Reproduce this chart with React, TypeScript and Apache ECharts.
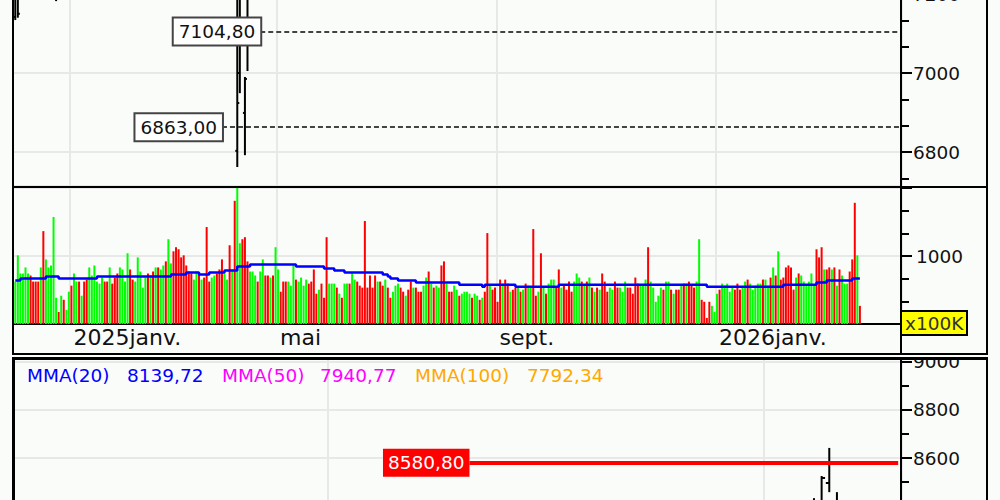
import React, { useEffect, useRef } from 'react';
import * as echarts from 'echarts';

// ---------------- data ----------------
const CATEGORY_COUNT = 348; // daily slots on the top chart's time axis
const BOTTOM_CATEGORY_COUNT = 116; // slots on the lower chart's time axis

const MONTH_LABELS = ['2025janv.', 'mai', 'sept.', '2026janv.'];
const MONTH_INDEX = [22, 103, 189, 275];
const BOTTOM_GRID_INDEX = [41, 98];

// volume in x100K
const VOLUME = [
  624, 1010, 743, 743, 832, 743, 713, 624, 624, 624,
  832, 1366, 950, 832, 861, 1574, 386, 178, 416, 356,
  208, 475, 564, 743, 624, 624, 416, 624, 653, 832,
  713, 861, 624, 594, 683, 624, 624, 832, 594, 683,
  743, 832, 802, 624, 1040, 802, 653, 624, 980, 772,
  535, 683, 743, 713, 772, 832, 832, 802, 861, 921,
  1247, 891, 1069, 1129, 1099, 980, 1010, 861, 772, 743,
  653, 772, 743, 653, 683, 1426, 624, 683, 713, 743,
  802, 950, 743, 653, 1158, 802, 1812, 2010, 1188, 1247,
  1277, 921, 772, 772, 713, 624, 772, 950, 713, 713,
  683, 713, 1129, 802, 475, 624, 624, 624, 564, 861,
  653, 624, 683, 564, 653, 594, 624, 802, 446, 505,
  594, 386, 1277, 594, 594, 594, 535, 446, 386, 594,
  594, 594, 743, 653, 624, 564, 535, 1515, 535, 713,
  535, 713, 624, 624, 564, 653, 535, 386, 475, 564,
  594, 535, 475, 416, 505, 624, 535, 535, 475, 475,
  564, 683, 772, 594, 535, 564, 535, 861, 921, 594,
  475, 475, 564, 505, 416, 446, 475, 475, 446, 386,
  446, 416, 356, 386, 475, 1337, 564, 505, 535, 327,
  653, 594, 653, 594, 475, 505, 535, 535, 475, 505,
  594, 564, 535, 1396, 416, 475, 1040, 535, 446, 594,
  653, 653, 535, 802, 535, 564, 505, 624, 475, 624, 743,
  683, 624, 564, 624, 683, 535, 475, 535, 505, 743,
  624, 475, 535, 505, 624, 535, 535, 475, 624, 535,
  535, 446, 683, 594, 564, 564, 653, 1129, 624, 535,
  327, 416, 535, 505, 624, 624, 505, 446, 505, 505,
  564, 594, 594, 624, 564, 535, 624, 1247, 356, 327,
  89, 327, 267, 178, 446, 505, 594, 564, 594, 475,
  535, 505, 594, 505, 535, 624, 653, 594, 505, 564,
  594, 594, 653, 653, 564, 683, 832, 713, 1069, 653,
  683, 832, 861, 832, 505, 683, 743, 713, 624, 564,
  624, 743, 564, 1099, 980, 1129, 802, 802, 832, 802,
  832, 564, 802, 713, 594, 594, 772, 950, 1782, 1010, 267,
];

// g = up day (green), r = down day (red)
const VOLUME_DIR = [
  'ggggggrrrr', 'grgggggrgr', 'ggrggrgrrg', 'gggggrrgrr', 'rggggrrggg',
  'ggrgrgrggr', 'ggrrrrrrrr', 'ggrgrrrggr', 'rrggrgrggr', 'rrgggrggrr', 'grggrrrggg',
  'rggggrrrrg', 'rrrgggrgrg', 'grggrrrrrr', 'rrgrrgrrgg', 'grrgrrgrrr',
  'ggrgrggrrg', 'rrggrggggr', 'ggrgrrgrrr', 'rgrrgrrgrg', 'rggrrgrgrg', 'ggrrgrrrrgg',
  'grgrgrgrgr', 'rrggrrgggr', 'rrrrgggrgg', 'gggrggrgrr', 'grgrrrggrr',
  'rrgggrgggg', 'grrrggrggg', 'ggrggrgrgr', 'rrrrrgrggg', 'gggrrrgrrg', 'rgrgggrrrgr',
].join('');

// moving average of volume: [first bar index, value]
const VOLUME_MA = [
  [0, 639], [2, 668], [12, 698], [17, 668], [32, 698], [61, 728], [67, 757], [72, 728],
  [76, 757], [82, 787], [87, 846], [92, 876], [110, 846], [121, 817], [125, 787], [129, 757],
  [144, 728], [146, 698], [147, 668], [150, 639], [157, 609], [174, 579], [183, 549], [184, 579],
  [196, 549], [213, 579], [271, 549], [301, 579], [314, 609], [318, 639], [328, 668], [331, 668],
];

// [bar index, open, high, low, close] — only the bars that reach the visible price window
const PRICE_TOP = [
  [0, 7142, 7280, 7134, 7190],
  [1, 7190, 7260, 7140, 7150],
  [16, 7240, 7290, 7182, 7260],
  [87, 6803, 7250, 6762, 6924],
  [88, 7000, 7300, 6949, 7120],
  [90, 6899, 6990, 6792, 6985],
  [91, 7110, 7300, 7005, 7120],
];
const PRICE_BOTTOM = [
  [104, 8380, 8433, 8340, 8400],
  [105, 8400, 8525, 8380, 8517],
  [106, 8496, 8642, 8458, 8581],
  [107, 8420, 8458, 8370, 8400],
];

const PRICE_LEVELS = [
  { value: 7104.8, text: '7104,80', from: 96 },
  { value: 6863.0, text: '6863,00', from: 81 },
];
const LAST_PRICE = { value: 8580.8, text: '8580,80', from: 59 };

const MMA_LEGEND = [
  { label: 'MMA(20)', value: '8139,72', color: '#0000ff' },
  { label: 'MMA(50)', value: '7940,77', color: '#ff00ff' },
  { label: 'MMA(100)', value: '7792,34', color: '#ffa800' },
];

const PRICE_MIN = 6714;
const PRICE_MAX = 7200;
const PRICE_MINOR_TICKS = [6733.33, 6866.67, 6933.33, 7066.67, 7133.33];
const BOTTOM_MIN = 8392;
const BOTTOM_MAX = 9012;

// ---------------- styles ----------------
const FONT = 'DejaVu Sans';
const BG = '#fafcfa';
const GRID_COLOR = '#e8e8e8';
const UP_COLOR = '#00ff00';
const DOWN_COLOR = '#ff0000';
const TEXT = '#111111';

const renderOHLC = (params: any, api: any) => {
  const idx = api.value(0);
  const open = api.value(1);
  const high = api.value(2);
  const low = api.value(3);
  const close = api.value(4);
  const cs = params.coordSys;
  const top = cs.y;
  const bottom = cs.y + cs.height;
  const pH = api.coord([idx, high]);
  const pL = api.coord([idx, low]);
  const pO = api.coord([idx, open]);
  const pC = api.coord([idx, close]);
  const band = api.size([1, 0])[0];
  const tick = Math.max(2, band * 0.45);
  const x = pH[0];
  const y1 = Math.max(top, pH[1]);
  const y2 = Math.min(bottom, pL[1]);
  const style = { stroke: '#000', lineWidth: 2 };
  const children: any[] = [];
  if (y2 > y1) children.push({ type: 'line', shape: { x1: x, y1, x2: x, y2 }, style });
  if (pO[1] >= top && pO[1] <= bottom)
    children.push({ type: 'line', shape: { x1: x - tick, y1: pO[1], x2: x, y2: pO[1] }, style });
  if (pC[1] >= top && pC[1] <= bottom)
    children.push({ type: 'line', shape: { x1: x, y1: pC[1], x2: x + tick, y2: pC[1] }, style });
  return { type: 'group', children };
};

const plain = (v: number) => String(v);

const buildOption = () => {
  const cats = Array.from({ length: CATEGORY_COUNT }, (_, i) => String(i));
  const bottomCats = Array.from({ length: BOTTOM_CATEGORY_COUNT }, (_, i) => String(i));
  const isMonth = (i: number) => MONTH_INDEX.indexOf(i) >= 0;
  const splitX = { show: true, interval: isMonth, lineStyle: { color: GRID_COLOR, width: 2 } };
  const splitY = { show: true, lineStyle: { color: GRID_COLOR, width: 2 } };
  const tickStyle = { color: '#000', width: 2 };
  const axisLabelStyle = { fontFamily: FONT, fontSize: 18.5, color: TEXT };
  const dashStyle = { color: '#444444', width: 2, type: [5, 3] as any, opacity: 1 };

  const volumeData = VOLUME.map((v, i) => ({
    value: v,
    itemStyle: { color: VOLUME_DIR[i] === 'g' ? UP_COLOR : DOWN_COLOR },
  }));

  const levelLines = PRICE_LEVELS.map((lv) => [
    {
      coord: [lv.from, lv.value],
      label: {
        show: true, position: 'start', distance: 0, formatter: lv.text,
        backgroundColor: '#ffffff', borderColor: '#444444', borderWidth: 2,
        padding: [3, 5, 3, 5], lineHeight: 20, ...axisLabelStyle,
      },
      lineStyle: dashStyle,
    },
    { coord: [CATEGORY_COUNT - 1, lv.value] },
  ]);

  const rect = (x: number, y: number, w: number, h: number, fill = '#000', z = 100) => ({
    type: 'rect', silent: true, z, shape: { x, y, width: w, height: h }, style: { fill },
  });

  const legendX = [27, 127, 222, 320, 415, 527];
  const legendTexts: any[] = [];
  MMA_LEGEND.forEach((m, i) => {
    [m.label, m.value].forEach((t, j) => {
      legendTexts.push({
        type: 'text', z: 102, x: legendX[i * 2 + j], y: 375,
        style: { text: t, fill: m.color, fontFamily: FONT, fontSize: 18.5, verticalAlign: 'middle' },
      });
    });
  });

  return {
    animation: false,
    backgroundColor: BG,
    textStyle: { fontFamily: FONT },
    grid: [
      { left: 14, right: 98, top: -6, height: 192, containLabel: false, outerBoundsMode: 'none' },
      { left: 14, right: 98, top: 188, height: 136, containLabel: false, outerBoundsMode: 'none' },
      { left: 14, right: 98, top: 359, height: 149, containLabel: false, outerBoundsMode: 'none' },
    ],
    xAxis: [
      {
        type: 'category', gridIndex: 0, data: cats, boundaryGap: true,
        axisLine: { show: false }, axisTick: { show: false }, axisLabel: { show: false },
        splitLine: splitX,
      },
      {
        type: 'category', gridIndex: 1, data: cats, boundaryGap: true,
        axisLine: { show: true, lineStyle: { color: '#000', width: 2 } },
        axisTick: { show: false },
        axisLabel: {
          show: true, interval: isMonth, align: 'left', margin: 2, padding: [0, 0, 0, 2],
          fontFamily: FONT, fontSize: 22, color: TEXT,
          formatter: (_v: string, i: number) => {
            const k = MONTH_INDEX.indexOf(i);
            return k >= 0 ? MONTH_LABELS[k] : '';
          },
        },
        splitLine: splitX,
      },
      {
        type: 'category', gridIndex: 2, data: bottomCats, boundaryGap: true,
        axisLine: { show: false }, axisTick: { show: false }, axisLabel: { show: false },
        splitLine: {
          show: true, interval: (i: number) => BOTTOM_GRID_INDEX.indexOf(i) >= 0,
          lineStyle: { color: GRID_COLOR, width: 2 },
        },
      },
    ],
    yAxis: [
      {
        type: 'value', gridIndex: 0, position: 'right', min: PRICE_MIN, max: PRICE_MAX,
        minInterval: 200, maxInterval: 200,
        axisLine: { show: false },
        axisTick: { show: true, length: 10, lineStyle: tickStyle },
        axisLabel: { show: true, margin: 11, showMinLabel: false, formatter: plain, ...axisLabelStyle },
        splitLine: splitY,
      },
      {
        type: 'value', gridIndex: 0, position: 'right', min: PRICE_MIN, max: PRICE_MAX,
        axisLine: { show: false }, axisLabel: { show: false }, splitLine: { show: false },
        axisTick: { show: true, length: 7, customValues: PRICE_MINOR_TICKS, lineStyle: tickStyle },
      },
      {
        type: 'value', gridIndex: 1, position: 'right', min: 0, max: 2000, interval: 1000,
        axisLine: { show: false },
        axisTick: { show: true, length: 10, lineStyle: tickStyle },
        minorTick: { show: true, splitNumber: 3, length: 7, lineStyle: tickStyle },
        axisLabel: {
          show: true, margin: 14, ...axisLabelStyle,
          formatter: (v: number) => (v === 1000 ? '1000' : ''),
        },
        splitLine: splitY,
      },
      {
        type: 'value', gridIndex: 2, position: 'right', min: BOTTOM_MIN, max: BOTTOM_MAX,
        minInterval: 200, maxInterval: 200,
        axisLine: { show: false },
        axisTick: { show: true, length: 10, lineStyle: tickStyle },
        minorTick: { show: true, splitNumber: 2, length: 7, lineStyle: tickStyle },
        axisLabel: {
          show: true, margin: 11, showMinLabel: false, showMaxLabel: false,
          formatter: plain, ...axisLabelStyle,
        },
        splitLine: splitY,
      },
    ],
    series: [
      {
        type: 'custom', name: 'price', xAxisIndex: 0, yAxisIndex: 0,
        renderItem: renderOHLC, data: PRICE_TOP, encode: { x: 0, y: [1, 2, 3, 4] }, z: 3,
        markLine: {
          silent: true, symbol: ['none', 'none'], animation: false,
          lineStyle: dashStyle, data: levelLines,
        },
      },
      {
        type: 'bar', name: 'volume', xAxisIndex: 1, yAxisIndex: 2,
        data: volumeData, barWidth: 2, z: 2,
      },
      {
        type: 'line', name: 'volume MA', xAxisIndex: 1, yAxisIndex: 2,
        data: VOLUME_MA, step: 'end', showSymbol: false, symbol: 'none',
        lineStyle: { color: '#0000ff', width: 2.5 }, z: 4,
      },
      {
        type: 'custom', name: 'price2', xAxisIndex: 2, yAxisIndex: 3,
        renderItem: renderOHLC, data: PRICE_BOTTOM, encode: { x: 0, y: [1, 2, 3, 4] }, z: 3,
        markLine: {
          silent: true, symbol: ['none', 'none'], animation: false,
          lineStyle: { color: '#ff0000', width: 4, type: 'solid', opacity: 1 },
          data: [[
            {
              coord: [LAST_PRICE.from, LAST_PRICE.value],
              label: {
                show: true, position: 'start', distance: 0, formatter: LAST_PRICE.text,
                backgroundColor: '#ff0000', padding: [4, 5, 4, 5], lineHeight: 20,
                fontFamily: FONT, fontSize: 18.5, color: '#ffffff',
              },
              lineStyle: { color: '#ff0000', width: 4, type: 'solid', opacity: 1 },
            },
            { coord: [BOTTOM_CATEGORY_COUNT - 1, LAST_PRICE.value] },
          ]],
        },
      },
    ],
    graphic: [
      rect(903, 336, 83, 21, BG, 99),
      rect(12, 0, 2, 355),
      rect(12, 186, 976, 2),
      rect(12, 353, 976, 2),
      rect(900, 0, 2, 355),
      rect(986, 0, 2, 355),
      rect(12, 357, 976, 3),
      rect(12, 357, 3, 143),
      rect(900, 357, 2, 143),
      rect(986, 357, 2, 143),
      {
        type: 'rect', z: 101, silent: true,
        shape: { x: 901, y: 311, width: 66, height: 24 },
        style: { fill: '#ffff00', stroke: '#000', lineWidth: 2 },
      },
      {
        type: 'text', z: 102, x: 905, y: 323.5, silent: true,
        style: { text: 'x100K', fill: '#333', fontFamily: FONT, fontSize: 18.5, verticalAlign: 'middle' },
      },
      ...legendTexts,
    ],
  };
};

export default function App() {
  const ref = useRef<HTMLDivElement>(null);
  useEffect(() => {
    if (!ref.current) return;
    const chart = echarts.init(ref.current, null, { renderer: 'svg' });
    chart.setOption(buildOption() as any);
    return () => chart.dispose();
  }, []);
  return (
    <div
      ref={ref}
      style={{ position: 'fixed', left: 0, top: 0, width: 1000, height: 500, background: BG }}
    />
  );
}
